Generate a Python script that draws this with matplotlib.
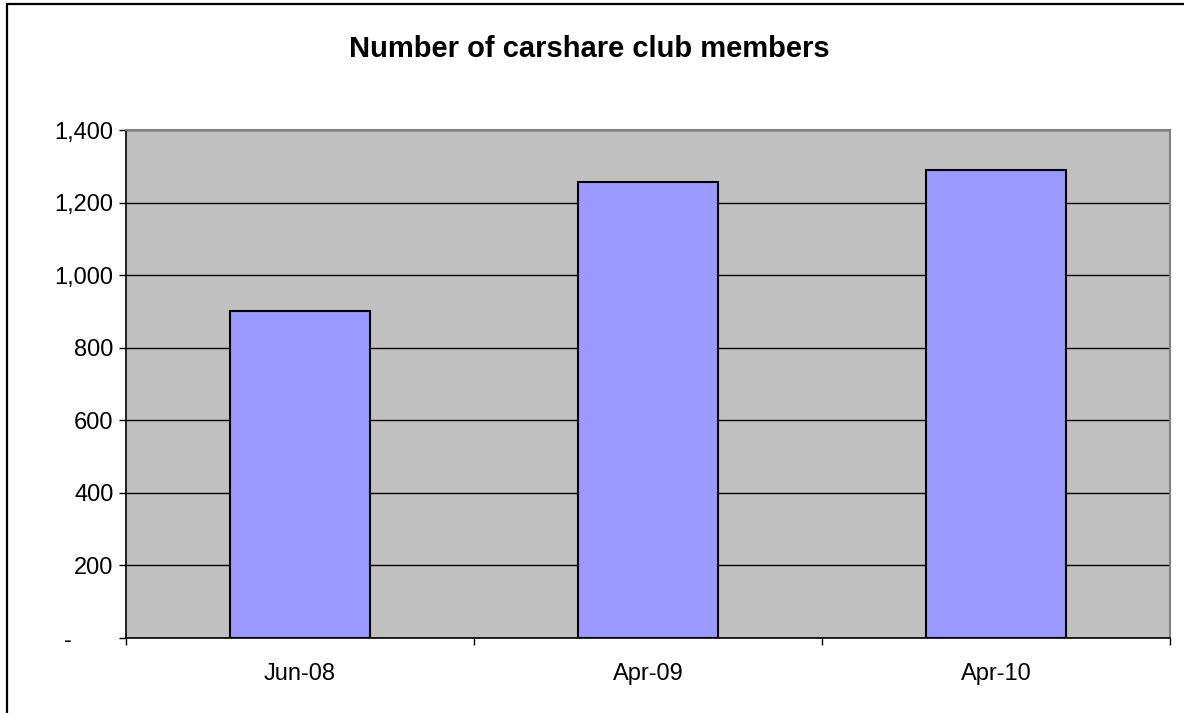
import matplotlib
matplotlib.use('Agg')
import matplotlib.pyplot as plt
from matplotlib.patches import Rectangle
from matplotlib.ticker import FuncFormatter
from matplotlib.transforms import ScaledTranslation

# Data
categories = ['Jun-08', 'Apr-09', 'Apr-10']
members = [902, 1257, 1290]

plt.rcParams['font.family'] = ['Liberation Sans', 'DejaVu Sans']

W, H = 1184, 713
fig = plt.figure(figsize=(W / 100, H / 100), dpi=100)
ax = fig.add_axes([126 / W, 1 - 638 / H, (1170 - 126) / W, (638 - 130) / H])
ax.set_facecolor('#c0c0c0')

x = list(range(len(categories)))
ax.bar(x, members, width=0.4, color='#9999ff', edgecolor='black', linewidth=1.5, zorder=3)

ax.set_xlim(-0.5, len(categories) - 0.5)
ax.set_ylim(0, 1400)
ax.set_yticks(range(0, 1401, 200))
ax.yaxis.set_major_formatter(FuncFormatter(lambda v, p: '-' if v == 0 else f'{int(v):,}'))
ax.grid(axis='y', color='black', linewidth=1, zorder=1)
ax.set_axisbelow(True)

ax.set_xticks(x)
ax.set_xticklabels(categories)
ax.set_xticks([i - 0.5 for i in range(len(categories) + 1)], minor=True)
ax.tick_params(axis='x', which='major', length=0, pad=18, labelsize=17)
ax.tick_params(axis='x', which='minor', length=5, width=1, direction='out')
ax.tick_params(axis='y', length=5, width=1, direction='out', pad=4, labelsize=17)

# the zero label ("-") sits further left, accounting-style
zero_lbl = ax.yaxis.get_major_ticks()[0].label1
zero_lbl.set_transform(zero_lbl.get_transform() + ScaledTranslation(-0.42, 0, fig.dpi_scale_trans))

for side in ['left', 'bottom']:
    ax.spines[side].set_color('black')
    ax.spines[side].set_linewidth(1.2)
for side in ['top', 'right']:
    ax.spines[side].set_color('#808080')
    ax.spines[side].set_linewidth(1.5)

fig.text(589 / W, 1 - 49 / H, 'Number of carshare club members', ha='center', va='center',
         fontsize=21, fontweight='bold')

# outer chart border
fig.patches.append(Rectangle((7 / W, -0.5), 2, 1.5 - 4 / H, transform=fig.transFigure,
                             fill=False, edgecolor='black', linewidth=1.6))

fig.savefig('out.png', dpi=100)
